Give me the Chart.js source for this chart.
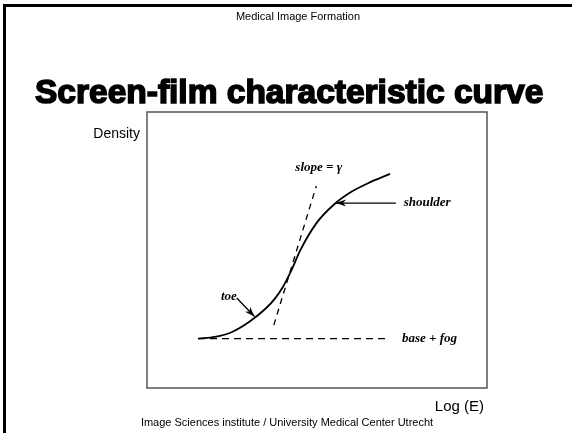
<!DOCTYPE html>
<html>
<head>
<meta charset="utf-8">
<script src="https://cdn.jsdelivr.net/npm/chart.js@4/dist/chart.umd.min.js"></script>
<style>
  body { margin: 0; background: #fff; }
  canvas { display: block; }
</style>
</head>
<body>
<canvas id="canvas" width="572" height="433"></canvas>
<script>
// screen-film characteristic curve
// (x = log exposure, y = density, arbitrary units 0-10)
let logE    = [1.5, 2, 2.5, 3, 3.5, 3.75, 4, 4.25, 4.5, 5, 5.5, 6, 6.5, 7.15];
let density = [1.79, 1.85, 2.03, 2.39, 2.89, 3.22, 3.67, 4.27, 4.97, 6.0, 6.65, 7.1, 7.42, 7.76];

// dashed helper lines
let baseFogX = [1.5, 7.02];
let baseFogY = [1.79, 1.79];
let gammaX   = [3.73, 4.98];
let gammaY   = [2.28, 7.32];

// text on the slide
let header  = 'Medical Image Formation';
let title   = 'Screen-film characteristic curve';
let yLabel  = 'Density';
let xLabel  = 'Log (E)';
let footer  = 'Image Sciences institute / University Medical Center Utrecht';

// annotations, anchored in data units
let notes = [
  { text: 'toe',        x: 2.64, y: 3.3,  align: 'right'  },
  { text: 'shoulder',   x: 7.55, y: 6.7,  align: 'left'   },
  { text: 'slope = \u03b3', x: 5.05, y: 7.99, align: 'center' },
  { text: 'base + fog', x: 7.5,  y: 1.79, align: 'left'   }
];
let arrows = [
  { from: [2.64, 3.26], to: [3.16, 2.59] },
  { from: [7.32, 6.7],  to: [5.56, 6.7] }
];

function pts(xs, ys) {
  return xs.map((v, i) => ({ x: v, y: ys[i] }));
}

function arrowHead(ctx, x0, y0, x1, y1) {
  let a = Math.atan2(y1 - y0, x1 - x0);
  let len = 10, w = 3.5;
  ctx.beginPath();
  ctx.moveTo(x1, y1);
  ctx.lineTo(x1 - len * Math.cos(a) + w * Math.sin(a), y1 - len * Math.sin(a) - w * Math.cos(a));
  ctx.lineTo(x1 - 0.7 * len * Math.cos(a), y1 - 0.7 * len * Math.sin(a));
  ctx.lineTo(x1 - len * Math.cos(a) - w * Math.sin(a), y1 - len * Math.sin(a) + w * Math.cos(a));
  ctx.closePath();
  ctx.fill();
}

// draws the slide around the plot: frame, box, titles, notes
const slide = {
  id: 'slide',
  afterDraw(chart) {
    const { ctx, chartArea: a, scales: { x, y } } = chart;
    ctx.save();

    // slide frame (only top + left visible)
    ctx.fillStyle = '#000';
    ctx.fillRect(3, 4, 569, 3);
    ctx.fillRect(3, 4, 3, 429);

    // plot box
    ctx.strokeStyle = '#555';
    ctx.lineWidth = 1.5;
    ctx.strokeRect(a.left, a.top, a.right - a.left, a.bottom - a.top);

    ctx.fillStyle = '#000';
    ctx.textBaseline = 'alphabetic';

    ctx.font = '11px "Liberation Sans", Arial, sans-serif';
    ctx.textAlign = 'center';
    ctx.fillText(header, 298, 20);
    ctx.fillText(footer, 287, 426);

    ctx.font = 'bold 33.5px "Liberation Sans", Arial, sans-serif';
    ctx.textAlign = 'left';
    ctx.lineWidth = 1.6;
    ctx.strokeStyle = '#000';
    ctx.fillText(title, 35, 103);
    ctx.strokeText(title, 35, 103);

    ctx.font = '14px "Liberation Sans", Arial, sans-serif';
    ctx.textAlign = 'right';
    ctx.fillText(yLabel, 140, 138);
    ctx.font = '15px "Liberation Sans", Arial, sans-serif';
    ctx.fillText(xLabel, 484, 411);

    // annotations
    ctx.font = 'italic bold 13px "Liberation Serif", "Times New Roman", serif';
    ctx.textBaseline = 'middle';
    notes.forEach(n => {
      ctx.textAlign = n.align;
      ctx.fillText(n.text, x.getPixelForValue(n.x), y.getPixelForValue(n.y));
    });

    ctx.lineWidth = 1.3;
    arrows.forEach(ar => {
      let x0 = x.getPixelForValue(ar.from[0]), y0 = y.getPixelForValue(ar.from[1]);
      let x1 = x.getPixelForValue(ar.to[0]),   y1 = y.getPixelForValue(ar.to[1]);
      ctx.beginPath();
      ctx.moveTo(x0, y0);
      ctx.lineTo(x1, y1);
      ctx.stroke();
      arrowHead(ctx, x0, y0, x1, y1);
    });

    ctx.restore();
  }
};

let options = {
  type: 'line',
  data: {
    datasets: [
      {
        data: pts(logE, density),
        borderColor: '#000',
        borderWidth: 1.8,
        cubicInterpolationMode: 'monotone',
        pointRadius: 0
      },
      {
        data: pts(baseFogX, baseFogY),
        borderColor: '#000',
        borderWidth: 1.3,
        borderDash: [7, 5],
        pointRadius: 0
      },
      {
        data: pts(gammaX, gammaY),
        borderColor: '#000',
        borderWidth: 1.3,
        borderDash: [6, 5],
        pointRadius: 0
      }
    ]
  },
  options: {
    responsive: false,
    animation: false,
    layout: {
      padding: { left: 147, top: 112, right: 85, bottom: 45 }
    },
    scales: {
      x: { type: 'linear', min: 0, max: 10, display: false },
      y: { type: 'linear', min: 0, max: 10, display: false }
    },
    plugins: {
      legend: { display: false },
      tooltip: { enabled: false }
    }
  },
  plugins: [slide]
};

let chart = new Chart(document.getElementById('canvas'), options);
</script>
</body>
</html>
